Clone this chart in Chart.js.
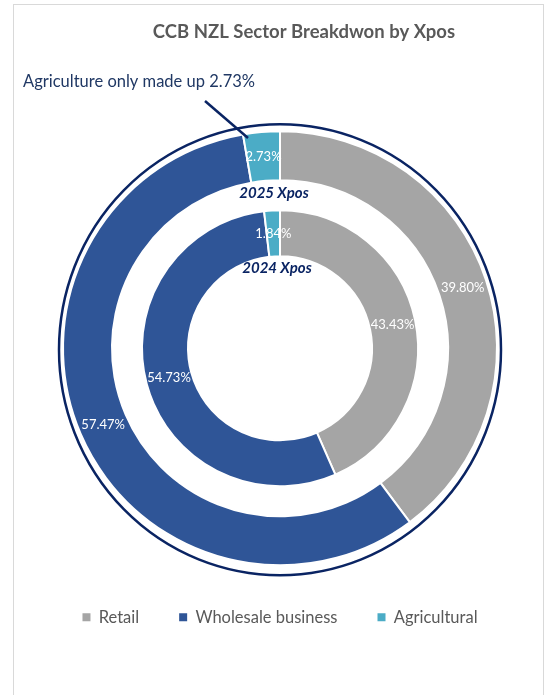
<!DOCTYPE html>
<html>
<head>
<meta charset="utf-8">
<script src="https://cdn.jsdelivr.net/npm/chart.js@4"></script>
<style>
    body { margin: 0; background: #fff; }
    #wrap { position: relative; width: 550px; height: 695px; overflow: hidden; }
    #frame { position: absolute; left: 13px; top: 4px; width: 531px; height: 720px; border: 1px solid #d9d9d9; box-sizing: border-box; }
    #sectorChart { position: absolute; left: 0; top: 0; }
</style>
</head>
<body>
<div id="wrap">
    <div id="frame"></div>
    <canvas id="sectorChart" width="550" height="695"></canvas>
</div>
<script>
const sectors = ["Retail", "Wholesale business", "Agricultural"];
const xpos2025 = [39.80, 57.47, 2.73];
const xpos2024 = [43.43, 54.73, 1.84];
const sectorColors = ["#A5A5A5", "#2F5597", "#4BACC6"];

const navy = "#0A2463";
const fontFamily = "Lato, 'Open Sans', sans-serif";

// draws the title, ring captions, callout, value labels and the navy outline
const extrasPlugin = {
    id: "extras",
    afterDatasetsDraw(chart) {
        const ctx = chart.ctx;
        const first = chart.getDatasetMeta(0).data[0];

        ctx.save();
        // navy outline around the outer ring (slightly taller than wide)
        ctx.beginPath();
        ctx.ellipse(first.x, first.y + 1.5, first.outerRadius + 4, first.outerRadius + 8.5, 0, 0, Math.PI * 2);
        ctx.strokeStyle = navy;
        ctx.lineWidth = 2.5;
        ctx.stroke();

        // value labels
        ctx.fillStyle = "#ffffff";
        ctx.font = "13px " + fontFamily;
        ctx.textAlign = "center";
        ctx.textBaseline = "middle";
        [0, 2].forEach((di) => {
            const values = chart.data.datasets[di].data;
            chart.getDatasetMeta(di).data.forEach((arc, i) => {
                const p = arc.tooltipPosition();
                ctx.fillText(values[i].toFixed(2) + "%", p.x, p.y);
            });
        });

        // ring captions
        ctx.fillStyle = navy;
        ctx.font = "italic bold 15px " + fontFamily;
        ctx.fillText("2025 Xpos", 274, 193);
        ctx.fillText("2024 Xpos", 277, 268);

        // title
        ctx.fillStyle = "#595959";
        ctx.font = "bold 18.5px " + fontFamily;
        ctx.fillText("CCB NZL Sector Breakdwon by Xpos", 304, 32);

        // callout
        ctx.fillStyle = "#203864";
        ctx.font = "16.5px " + fontFamily;
        ctx.textAlign = "left";
        ctx.fillText("Agriculture only made up " + xpos2025[2].toFixed(2) + "%", 23, 82);
        ctx.beginPath();
        ctx.moveTo(205, 101);
        ctx.lineTo(248, 138);
        ctx.strokeStyle = navy;
        ctx.lineWidth = 2.5;
        ctx.stroke();
        ctx.restore();
    },
};

const ctx = document.getElementById("sectorChart").getContext("2d");

const chart = new Chart(ctx, {
    type: "doughnut",
    data: {
        labels: sectors,
        datasets: [
            {
                label: "2025 Xpos",
                data: xpos2025,
                backgroundColor: sectorColors,
                borderColor: "#ffffff",
                borderWidth: 2,
                weight: 49,
            },
            {
                // empty ring used as the gap between the two years
                label: "",
                data: [],
                weight: 30,
            },
            {
                label: "2024 Xpos",
                data: xpos2024,
                backgroundColor: sectorColors,
                borderColor: "#ffffff",
                borderWidth: 2,
                weight: 46,
            },
        ],
    },
    options: {
        responsive: false,
        animation: false,
        events: [],
        radius: 217,
        cutout: "42.4%",
        layout: {
            padding: { top: 127.5, bottom: 59.5, left: 20, right: 10 },
        },
        plugins: {
            tooltip: { enabled: false },
            legend: {
                position: "bottom",
                labels: {
                    color: "#595959",
                    font: { family: fontFamily, size: 16.5 },
                    boxWidth: 8,
                    boxHeight: 8,
                    padding: 40,
                    generateLabels: (c) =>
                        Chart.overrides.doughnut.plugins.legend.labels
                            .generateLabels(c)
                            .map((l) => ({ ...l, lineWidth: 0, strokeStyle: "transparent" })),
                },
            },
        },
    },
    plugins: [extrasPlugin],
});
</script>
</body>
</html>
